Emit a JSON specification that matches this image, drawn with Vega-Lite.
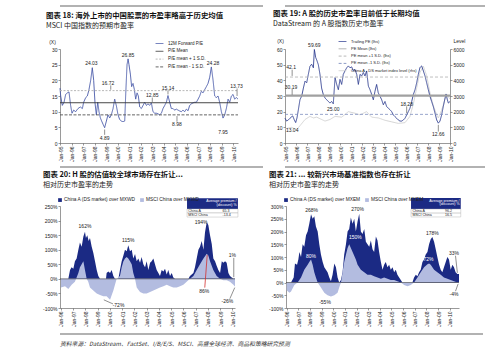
{
"$schema": "https://vega.github.io/schema/vega-lite/v6.json",
"background": "white",
"padding": {"left": 42, "top": 5, "right": 0, "bottom": 0},
"spacing": 2,
"resolve": {"scale": {"color": "independent", "strokeDash": "independent", "strokeWidth": "independent"}, "legend": {"color": "independent", "strokeDash": "independent"}},
"vconcat": [
 {"spacing": 20, "hconcat": [
  {"width": 203, "height": 1, "data": {"values": [{}]}, "mark": {"type": "rule", "color": "#999999", "strokeWidth": 1.3}, "encoding": {"y": {"datum": 1, "type": "quantitative", "scale": {"domain": [0, 1]}, "axis": null}}},
  {"width": 200, "height": 1, "data": {"values": [{}]}, "mark": {"type": "rule", "color": "#999999", "strokeWidth": 1.3}, "encoding": {"y": {"datum": 1, "type": "quantitative", "scale": {"domain": [0, 1]}, "axis": null}}}
 ]},
 {"spacing": 30,
  "resolve": {"scale": {"color": "independent", "strokeDash": "independent", "strokeWidth": "independent"}, "legend": {"color": "independent", "strokeDash": "independent"}},
  "hconcat": [
  {"width": 178, "height": 94,
   "title": {"text": "图表 18: 海外上市的中国股票的市盈率略高于历史均值", "subtitle": "MSCI 中国指数的预期市盈率", "dx": -14, "offset": 10},
   "encoding": {
    "x": {"field": "t", "type": "quantitative", "scale": {"domain": [1995, 2010.43], "nice": false, "zero": false},
          "axis": {"values": [1995,1996,1997,1998,1999,2000,2001,2002,2003,2004,2005,2006,2007,2008,2009,2010], "labelExpr": "'Jan-' + substring(toString(datum.value), 2, 4)", "labelAngle": -90, "labelOverlap": false, "title": null}},
    "y": {"field": "v", "type": "quantitative", "scale": {"domain": [0, 30], "nice": false},
          "axis": {"values": [0,5,10,15,20,25,30], "labelOverlap": false, "title": "(X)", "titleAngle": 0, "titleX": -8, "titleY": -8, "titleAlign": "center", "titleBaseline": "middle"}}
   },
   "layer": [
    {"data": {"name": "c18"}, "mark": {"type": "line", "strokeWidth": 0.9},
     "encoding": {
      "color": {"field": "s", "type": "nominal", "scale": {"domain": ["12M Forward P/E", "P/E Mean", "P/E mean + 1 S.D.", "P/E mean - 1 S.D."], "range": ["#4253a6", "#333333", "#b0b0b0", "#555555"]},
                "legend": {"orient": "none", "legendX": 95, "legendY": -10, "symbolType": "stroke", "symbolSize": 60, "symbolStrokeWidth": 0.9, "labelFontSize": 4.5, "rowPadding": 0.8, "title": null}},
      "strokeDash": {"field": "s", "type": "nominal", "scale": {"domain": ["12M Forward P/E", "P/E Mean", "P/E mean + 1 S.D.", "P/E mean - 1 S.D."], "range": [[1,0],[1,0],[2,1.5],[3,1.5]]},
                "legend": {"orient": "none", "legendX": 95, "legendY": -10, "symbolType": "stroke", "symbolSize": 60, "symbolStrokeWidth": 0.9, "labelFontSize": 4.5, "rowPadding": 0.8, "title": null}}
     }},
    {"data": {"name": "a18"}, "mark": {"type": "text", "fontSize": 5, "color": "#222222"}, "encoding": {"text": {"field": "l"}}},
    {"data": {"name": "r18"}, "mark": {"type": "rule", "color": "#222222", "strokeWidth": 0.5}, "encoding": {"x2": {"field": "t2"}, "y2": {"field": "v2"}}}
   ]},
  {"width": 165, "height": 94,
   "title": {"text": "图表 19: A 股的历史市盈率目前低于长期均值", "subtitle": "DataStream 的 A 股指数历史市盈率", "dx": -12, "offset": 10},
   "resolve": {"scale": {"y": "independent"}},
   "encoding": {
    "x": {"field": "t", "type": "quantitative", "scale": {"domain": [1995, 2010], "nice": false, "zero": false},
          "axis": {"values": [1995,1996,1997,1998,1999,2000,2001,2002,2003,2004,2005,2006,2007,2008,2009,2010], "labelExpr": "'Jan-' + substring(toString(datum.value), 2, 4)", "labelAngle": -90, "labelOverlap": false, "title": null}}
   },
   "layer": [
    {"data": {"name": "c19i"}, "mark": {"type": "line", "strokeWidth": 0.9},
     "encoding": {
      "y": {"field": "v", "type": "quantitative", "scale": {"domain": [0, 6000], "nice": false},
            "axis": {"orient": "right", "values": [0,1000,2000,3000,4000,5000,6000], "format": "d", "labelOverlap": false, "title": "Level", "titleAngle": 0, "titleX": 9, "titleY": -9, "titleAlign": "center", "titleBaseline": "middle"}},
      "color": {"field": "s", "type": "nominal", "scale": {"domain": ["Trailing PE (lhs)", "PE Mean (lhs)", "PE mean +1 S.D. (lhs)", "PE mean -1 S.D. (lhs)", "China A - DS market index level (rhs)"], "range": ["#2b3b8f", "#a0a0a0", "#b0b0b0", "#7f8fbf", "#cfcfcf"]},
                "legend": {"orient": "none", "legendX": 53, "legendY": -12, "symbolType": "stroke", "symbolSize": 60, "symbolStrokeWidth": 0.9, "labelFontSize": 4, "rowPadding": 0.3, "title": null}},
      "strokeDash": {"field": "s", "type": "nominal", "scale": {"domain": ["Trailing PE (lhs)", "PE Mean (lhs)", "PE mean +1 S.D. (lhs)", "PE mean -1 S.D. (lhs)", "China A - DS market index level (rhs)"], "range": [[1,0],[1,0],[3,2],[3,2],[1,0]]},
                "legend": {"orient": "none", "legendX": 53, "legendY": -12, "symbolType": "stroke", "symbolSize": 60, "symbolStrokeWidth": 0.9, "labelFontSize": 4, "rowPadding": 0.3, "title": null}}
     }},
    {"encoding": {
      "y": {"field": "v", "type": "quantitative", "scale": {"domain": [0, 60], "nice": false},
            "axis": {"orient": "left", "values": [0,10,20,30,40,50,60], "labelOverlap": false, "title": "(X)", "titleAngle": 0, "titleX": -5, "titleY": -9, "titleAlign": "center", "titleBaseline": "middle"}}
     },
     "layer": [
     {"data": {"name": "c19"}, "mark": {"type": "line"},
      "encoding": {
       "color": {"field": "s", "type": "nominal"},
       "strokeDash": {"field": "s", "type": "nominal"},
       "strokeWidth": {"field": "s", "type": "nominal", "scale": {"type": "ordinal", "domain": ["Trailing PE (lhs)", "PE Mean (lhs)", "PE mean +1 S.D. (lhs)", "PE mean -1 S.D. (lhs)"], "range": [0.9, 2.2, 0.8, 0.8]}, "legend": null}
      }},
     {"data": {"name": "a19"}, "mark": {"type": "text", "fontSize": 5, "color": "#222222"}, "encoding": {"text": {"field": "l"}}},
     {"data": {"name": "r19"}, "mark": {"type": "rule", "color": "#222222", "strokeWidth": 0.5}, "encoding": {"x2": {"field": "t2"}, "y2": {"field": "v2"}}}
    ]}
   ]}
 ]},
 {"spacing": 20, "hconcat": [
  {"width": 203, "height": 3, "data": {"values": [{}]}, "mark": {"type": "rule", "color": "#999999", "strokeWidth": 1.3}, "encoding": {"y": {"datum": 0, "type": "quantitative", "scale": {"domain": [0, 1]}, "axis": null}}},
  {"width": 200, "height": 3, "data": {"values": [{}]}, "mark": {"type": "rule", "color": "#999999", "strokeWidth": 1.3}, "encoding": {"y": {"datum": 0, "type": "quantitative", "scale": {"domain": [0, 1]}, "axis": null}}}
 ]},
 {"spacing": 29,
  "resolve": {"scale": {"color": "independent"}, "legend": {"color": "independent"}},
  "hconcat": [
  {"width": 175, "height": 102,
   "title": {"text": "图表 20: H 股的估值较全球市场存在折让...", "subtitle": "相对历史市盈率的走势", "dx": -17, "offset": 9},
   "encoding": {
    "x": {"field": "t", "type": "quantitative", "scale": {"domain": [1995.92, 2010.22], "nice": false, "zero": false},
          "axis": {"values": [1996,1997,1998,1999,2000,2001,2002,2003,2004,2005,2006,2007,2008,2009,2010], "labelExpr": "'Jan-' + substring(toString(datum.value), 2, 4)", "labelAngle": -90, "labelOverlap": false, "title": null}},
    "y": {"field": "v", "type": "quantitative", "scale": {"domain": [-100, 250], "nice": false},
          "axis": {"values": [-100,-50,0,50,100,150,200,250], "labelExpr": "datum.value + '%'", "labelOverlap": false, "title": null}}
   },
   "layer": [
    {"data": {"name": "c20a"}, "mark": {"type": "area"},
     "encoding": {
      "color": {"datum": "China A (DS market) over MXWD", "scale": {"domain": ["China A (DS market) over MXWD", "MSCI China over MXWD"], "range": ["#1b2a84", "#b3bce0"]},
                "legend": {"orient": "none", "legendX": -3, "legendY": -9, "direction": "horizontal", "symbolType": "square", "symbolSize": 14, "labelFontSize": 4.8, "columnPadding": 3, "labelOffset": 1, "title": null}}
     }},
    {"data": {"name": "c20b"}, "mark": {"type": "area"}, "encoding": {"color": {"datum": "MSCI China over MXWD"}}},
    {"data": {"name": "tab20"}, "mark": {"type": "rect", "fill": "#1b2a84"}, "encoding": {"x2": {"field": "t2"}, "y2": {"field": "v2"}}},
    {"data": {"name": "tabrow20"}, "mark": {"type": "rect", "fill": "white", "stroke": "#aaaaaa", "strokeWidth": 0.4}, "encoding": {"x2": {"field": "t2"}, "y2": {"field": "v2"}}},
    {"data": {"name": "tabhd20"}, "mark": {"type": "text", "fontSize": 3.6, "color": "white", "align": "right"}, "encoding": {"text": {"field": "l"}}},
    {"data": {"name": "tabtx20"}, "mark": {"type": "text", "fontSize": 3.6, "color": "#222222", "align": "left"}, "encoding": {"text": {"field": "l"}}},
    {"data": {"name": "a20"}, "mark": {"type": "text", "fontSize": 5, "color": "#222222"}, "encoding": {"text": {"field": "l"}}},
    {"data": {"name": "r20"}, "mark": {"type": "rule", "color": "#222222", "strokeWidth": 0.5}, "encoding": {"x2": {"field": "t2"}, "y2": {"field": "v2"}}},
    {"data": {"name": "r20red"}, "mark": {"type": "rule", "color": "#d23030", "strokeWidth": 0.8}, "encoding": {"x2": {"field": "t2"}, "y2": {"field": "v2"}}}
   ]},
  {"width": 173, "height": 102,
   "title": {"text": "图表 21: ... 较新兴市场基准指数也存在折让", "subtitle": "相对历史市盈率的走势", "dx": -17, "offset": 9},
   "encoding": {
    "x": {"field": "t", "type": "quantitative", "scale": {"domain": [1995.94, 2010.8], "nice": false, "zero": false},
          "axis": {"values": [1996,1997,1998,1999,2000,2001,2002,2003,2004,2005,2006,2007,2008,2009,2010], "labelExpr": "'Jan-' + substring(toString(datum.value), 2, 4)", "labelAngle": -90, "labelOverlap": false, "title": null}},
    "y": {"field": "v", "type": "quantitative", "scale": {"domain": [-100, 300], "nice": false},
          "axis": {"values": [-100,-50,0,50,100,150,200,250,300], "labelExpr": "datum.value + '%'", "labelOverlap": false, "title": null}}
   },
   "layer": [
    {"data": {"name": "c21a"}, "mark": {"type": "area"},
     "encoding": {
      "color": {"datum": "China A (DS market) over MXEM", "scale": {"domain": ["China A (DS market) over MXEM", "MSCI China over MXEM"], "range": ["#1b2a84", "#b3bce0"]},
                "legend": {"orient": "none", "legendX": -3, "legendY": -9, "direction": "horizontal", "symbolType": "square", "symbolSize": 14, "labelFontSize": 4.8, "columnPadding": 3, "labelOffset": 1, "title": null}}
     }},
    {"data": {"name": "c21b"}, "mark": {"type": "area"}, "encoding": {"color": {"datum": "MSCI China over MXEM"}}},
    {"data": {"name": "tab21"}, "mark": {"type": "rect", "fill": "#1b2a84"}, "encoding": {"x2": {"field": "t2"}, "y2": {"field": "v2"}}},
    {"data": {"name": "tabrow21"}, "mark": {"type": "rect", "fill": "white", "stroke": "#aaaaaa", "strokeWidth": 0.4}, "encoding": {"x2": {"field": "t2"}, "y2": {"field": "v2"}}},
    {"data": {"name": "tabhd21"}, "mark": {"type": "text", "fontSize": 3.6, "color": "white", "align": "right"}, "encoding": {"text": {"field": "l"}}},
    {"data": {"name": "tabtx21"}, "mark": {"type": "text", "fontSize": 3.6, "color": "#222222", "align": "left"}, "encoding": {"text": {"field": "l"}}},
    {"data": {"name": "a21"}, "mark": {"type": "text", "fontSize": 5, "color": "#222222"}, "encoding": {"text": {"field": "l"}}},
    {"data": {"name": "a21w"}, "mark": {"type": "text", "fontSize": 5, "color": "white"}, "encoding": {"text": {"field": "l"}}},
    {"data": {"name": "r21"}, "mark": {"type": "rule", "color": "#222222", "strokeWidth": 0.5}, "encoding": {"x2": {"field": "t2"}, "y2": {"field": "v2"}}}
   ]}
 ]},
 {"width": 423, "height": 5, "data": {"values": [{}]},
  "title": {"text": "资料来源：DataStream、FactSet、I/B/E/S、MSCI、高盛全球经济、商品和策略研究预测", "orient": "bottom", "anchor": "start", "frame": "group", "fontSize": 5.8, "fontWeight": "normal", "fontStyle": "italic", "color": "#333333", "offset": 6},
  "mark": {"type": "rule", "color": "#999999", "strokeWidth": 1.3}, "encoding": {"y": {"datum": 0, "type": "quantitative", "scale": {"domain": [0, 1]}, "axis": null}}}
],
"datasets": {
 "c18": [
  {"s":"12M Forward P/E","t":1995.00,"v":17.5},{"s":"12M Forward P/E","t":1995.06,"v":15},{"s":"12M Forward P/E","t":1995.20,"v":12},{"s":"12M Forward P/E","t":1995.35,"v":13},{"s":"12M Forward P/E","t":1995.49,"v":15.5},{"s":"12M Forward P/E","t":1995.64,"v":16},{"s":"12M Forward P/E","t":1995.78,"v":16.3},{"s":"12M Forward P/E","t":1995.92,"v":12},
  {"s":"12M Forward P/E","t":1996.04,"v":9.5},{"s":"12M Forward P/E","t":1996.18,"v":10.5},{"s":"12M Forward P/E","t":1996.36,"v":10},{"s":"12M Forward P/E","t":1996.56,"v":11},{"s":"12M Forward P/E","t":1996.76,"v":11.5},{"s":"12M Forward P/E","t":1996.94,"v":11},
  {"s":"12M Forward P/E","t":1997.05,"v":13},{"s":"12M Forward P/E","t":1997.23,"v":14.5},{"s":"12M Forward P/E","t":1997.37,"v":15},{"s":"12M Forward P/E","t":1997.51,"v":17},{"s":"12M Forward P/E","t":1997.66,"v":20},{"s":"12M Forward P/E","t":1997.80,"v":24.03},{"s":"12M Forward P/E","t":1997.92,"v":20},
  {"s":"12M Forward P/E","t":1998.03,"v":13},{"s":"12M Forward P/E","t":1998.15,"v":9},{"s":"12M Forward P/E","t":1998.27,"v":13},{"s":"12M Forward P/E","t":1998.38,"v":10},{"s":"12M Forward P/E","t":1998.50,"v":8},{"s":"12M Forward P/E","t":1998.61,"v":7},{"s":"12M Forward P/E","t":1998.73,"v":6},{"s":"12M Forward P/E","t":1998.87,"v":4.89},
  {"s":"12M Forward P/E","t":1999.02,"v":7},{"s":"12M Forward P/E","t":1999.16,"v":9},{"s":"12M Forward P/E","t":1999.31,"v":8},{"s":"12M Forward P/E","t":1999.45,"v":9},{"s":"12M Forward P/E","t":1999.60,"v":11},{"s":"12M Forward P/E","t":1999.74,"v":14},{"s":"12M Forward P/E","t":1999.88,"v":12},
  {"s":"12M Forward P/E","t":2000.03,"v":9},{"s":"12M Forward P/E","t":2000.17,"v":7.5},{"s":"12M Forward P/E","t":2000.32,"v":7},{"s":"12M Forward P/E","t":2000.46,"v":6.8},{"s":"12M Forward P/E","t":2000.61,"v":7},{"s":"12M Forward P/E","t":2000.69,"v":15},{"s":"12M Forward P/E","t":2000.81,"v":25},{"s":"12M Forward P/E","t":2000.90,"v":26.85},{"s":"12M Forward P/E","t":2000.98,"v":25},
  {"s":"12M Forward P/E","t":2001.10,"v":22},{"s":"12M Forward P/E","t":2001.21,"v":18},{"s":"12M Forward P/E","t":2001.33,"v":19},{"s":"12M Forward P/E","t":2001.45,"v":17},{"s":"12M Forward P/E","t":2001.56,"v":14},{"s":"12M Forward P/E","t":2001.68,"v":16},{"s":"12M Forward P/E","t":2001.79,"v":15},{"s":"12M Forward P/E","t":2001.91,"v":11.5},
  {"s":"12M Forward P/E","t":2002.05,"v":11},{"s":"12M Forward P/E","t":2002.20,"v":12},{"s":"12M Forward P/E","t":2002.34,"v":13},{"s":"12M Forward P/E","t":2002.49,"v":12},{"s":"12M Forward P/E","t":2002.63,"v":12.5},{"s":"12M Forward P/E","t":2002.77,"v":12},{"s":"12M Forward P/E","t":2002.92,"v":12.8},
  {"s":"12M Forward P/E","t":2003.06,"v":10},{"s":"12M Forward P/E","t":2003.21,"v":9.5},{"s":"12M Forward P/E","t":2003.35,"v":9.5},{"s":"12M Forward P/E","t":2003.50,"v":9.3},{"s":"12M Forward P/E","t":2003.64,"v":9},{"s":"12M Forward P/E","t":2003.79,"v":9.5},{"s":"12M Forward P/E","t":2003.93,"v":11},
  {"s":"12M Forward P/E","t":2004.08,"v":12},{"s":"12M Forward P/E","t":2004.22,"v":13},{"s":"12M Forward P/E","t":2004.36,"v":15.14},{"s":"12M Forward P/E","t":2004.51,"v":13},{"s":"12M Forward P/E","t":2004.65,"v":11},{"s":"12M Forward P/E","t":2004.80,"v":11},{"s":"12M Forward P/E","t":2004.94,"v":10.5},
  {"s":"12M Forward P/E","t":2005.09,"v":10.8},{"s":"12M Forward P/E","t":2005.23,"v":10.5},{"s":"12M Forward P/E","t":2005.38,"v":10.2},{"s":"12M Forward P/E","t":2005.52,"v":10},{"s":"12M Forward P/E","t":2005.66,"v":10.5},{"s":"12M Forward P/E","t":2005.81,"v":10},{"s":"12M Forward P/E","t":2005.95,"v":10.8},
  {"s":"12M Forward P/E","t":2006.10,"v":10.3},{"s":"12M Forward P/E","t":2006.24,"v":12},{"s":"12M Forward P/E","t":2006.39,"v":12.5},{"s":"12M Forward P/E","t":2006.53,"v":12.8},{"s":"12M Forward P/E","t":2006.68,"v":13},{"s":"12M Forward P/E","t":2006.82,"v":13},{"s":"12M Forward P/E","t":2006.97,"v":14},
  {"s":"12M Forward P/E","t":2007.11,"v":15},{"s":"12M Forward P/E","t":2007.25,"v":16.5},{"s":"12M Forward P/E","t":2007.40,"v":16},{"s":"12M Forward P/E","t":2007.54,"v":17},{"s":"12M Forward P/E","t":2007.69,"v":18},{"s":"12M Forward P/E","t":2007.83,"v":19},{"s":"12M Forward P/E","t":2007.98,"v":21},
  {"s":"12M Forward P/E","t":2008.12,"v":24.28},{"s":"12M Forward P/E","t":2008.27,"v":20},{"s":"12M Forward P/E","t":2008.41,"v":15},{"s":"12M Forward P/E","t":2008.55,"v":14.5},{"s":"12M Forward P/E","t":2008.70,"v":15},{"s":"12M Forward P/E","t":2008.84,"v":13},{"s":"12M Forward P/E","t":2008.99,"v":10},
  {"s":"12M Forward P/E","t":2009.13,"v":7.95},{"s":"12M Forward P/E","t":2009.28,"v":9},{"s":"12M Forward P/E","t":2009.42,"v":11},{"s":"12M Forward P/E","t":2009.57,"v":14},{"s":"12M Forward P/E","t":2009.71,"v":13},{"s":"12M Forward P/E","t":2009.86,"v":15},
  {"s":"12M Forward P/E","t":2010.00,"v":15.5},{"s":"12M Forward P/E","t":2010.14,"v":14},{"s":"12M Forward P/E","t":2010.29,"v":14.5},{"s":"12M Forward P/E","t":2010.43,"v":14},
  {"s":"P/E Mean","t":1995,"v":12.85},{"s":"P/E Mean","t":2010.43,"v":12.85},
  {"s":"P/E mean + 1 S.D.","t":1995,"v":16.72},{"s":"P/E mean + 1 S.D.","t":2010.43,"v":16.72},
  {"s":"P/E mean - 1 S.D.","t":1995,"v":8.98},{"s":"P/E mean - 1 S.D.","t":2010.43,"v":8.98}
 ],
 "a18": [
  {"t":1997.72,"v":25.4,"l":"24.03"},{"t":1998.87,"v":1.6,"l":"4.89"},{"t":1999.16,"v":19.3,"l":"16.72"},{"t":2000.90,"v":28.0,"l":"26.85"},
  {"t":2003.0,"v":15.3,"l":"12.85"},{"t":2004.36,"v":17.6,"l":"15.14"},{"t":2005.14,"v":6.0,"l":"8.98"},{"t":2008.27,"v":25.5,"l":"24.28"},
  {"t":2009.13,"v":3.6,"l":"7.95"},{"t":2010.3,"v":18.2,"l":"13.73"}
 ],
 "r18": [
  {"t":1998.87,"v":2.6,"t2":1998.87,"v2":4.3},{"t":1999.4,"v":18.4,"t2":1999.4,"v2":17.0},{"t":2003.0,"v":14.5,"t2":2003.0,"v2":13.1},
  {"t":2004.36,"v":16.8,"t2":2004.36,"v2":15.5},{"t":2005.14,"v":6.8,"t2":2005.14,"v2":8.6},{"t":2010.35,"v":17.4,"t2":2010.35,"v2":15.0}
 ],
 "c19": [
  {"s":"Trailing PE (lhs)","t":1995.00,"v":15.8},{"s":"Trailing PE (lhs)","t":1995.15,"v":14},{"s":"Trailing PE (lhs)","t":1995.30,"v":14.7},{"s":"Trailing PE (lhs)","t":1995.45,"v":15.8},{"s":"Trailing PE (lhs)","t":1995.61,"v":16.8},{"s":"Trailing PE (lhs)","t":1995.70,"v":17.3},{"s":"Trailing PE (lhs)","t":1995.85,"v":14.7},{"s":"Trailing PE (lhs)","t":1995.97,"v":13.04},
  {"s":"Trailing PE (lhs)","t":1996.09,"v":16},{"s":"Trailing PE (lhs)","t":1996.21,"v":21},{"s":"Trailing PE (lhs)","t":1996.36,"v":27.6},{"s":"Trailing PE (lhs)","t":1996.52,"v":30},{"s":"Trailing PE (lhs)","t":1996.67,"v":35},{"s":"Trailing PE (lhs)","t":1996.82,"v":39.5},{"s":"Trailing PE (lhs)","t":1996.97,"v":38.4},
  {"s":"Trailing PE (lhs)","t":1997.12,"v":43.8},{"s":"Trailing PE (lhs)","t":1997.27,"v":49},{"s":"Trailing PE (lhs)","t":1997.42,"v":50.3},{"s":"Trailing PE (lhs)","t":1997.58,"v":48},{"s":"Trailing PE (lhs)","t":1997.67,"v":59.69},{"s":"Trailing PE (lhs)","t":1997.79,"v":54.6},{"s":"Trailing PE (lhs)","t":1997.91,"v":52.5},
  {"s":"Trailing PE (lhs)","t":1998.03,"v":50},{"s":"Trailing PE (lhs)","t":1998.18,"v":43.8},{"s":"Trailing PE (lhs)","t":1998.33,"v":35},{"s":"Trailing PE (lhs)","t":1998.48,"v":31},{"s":"Trailing PE (lhs)","t":1998.64,"v":28.7},{"s":"Trailing PE (lhs)","t":1998.79,"v":27.6},{"s":"Trailing PE (lhs)","t":1998.94,"v":26.5},
  {"s":"Trailing PE (lhs)","t":1999.09,"v":25.5},{"s":"Trailing PE (lhs)","t":1999.24,"v":26.5},{"s":"Trailing PE (lhs)","t":1999.39,"v":25.0},{"s":"Trailing PE (lhs)","t":1999.55,"v":41.7},{"s":"Trailing PE (lhs)","t":1999.70,"v":37.4},{"s":"Trailing PE (lhs)","t":1999.85,"v":34},
  {"s":"Trailing PE (lhs)","t":2000.00,"v":40.6},{"s":"Trailing PE (lhs)","t":2000.15,"v":37.4},{"s":"Trailing PE (lhs)","t":2000.30,"v":43.8},{"s":"Trailing PE (lhs)","t":2000.45,"v":46},{"s":"Trailing PE (lhs)","t":2000.61,"v":48},{"s":"Trailing PE (lhs)","t":2000.76,"v":49.2},{"s":"Trailing PE (lhs)","t":2000.91,"v":48},
  {"s":"Trailing PE (lhs)","t":2001.06,"v":48.6},{"s":"Trailing PE (lhs)","t":2001.21,"v":46},{"s":"Trailing PE (lhs)","t":2001.36,"v":47},{"s":"Trailing PE (lhs)","t":2001.52,"v":43.8},{"s":"Trailing PE (lhs)","t":2001.67,"v":37.4},{"s":"Trailing PE (lhs)","t":2001.82,"v":43.8},{"s":"Trailing PE (lhs)","t":2001.97,"v":42.8},
  {"s":"Trailing PE (lhs)","t":2002.12,"v":45},{"s":"Trailing PE (lhs)","t":2002.27,"v":42.8},{"s":"Trailing PE (lhs)","t":2002.42,"v":46},{"s":"Trailing PE (lhs)","t":2002.58,"v":36.3},{"s":"Trailing PE (lhs)","t":2002.73,"v":34},{"s":"Trailing PE (lhs)","t":2002.88,"v":31},
  {"s":"Trailing PE (lhs)","t":2003.03,"v":27.6},{"s":"Trailing PE (lhs)","t":2003.18,"v":33},{"s":"Trailing PE (lhs)","t":2003.33,"v":37.4},{"s":"Trailing PE (lhs)","t":2003.48,"v":32},{"s":"Trailing PE (lhs)","t":2003.64,"v":29.8},{"s":"Trailing PE (lhs)","t":2003.79,"v":27.6},{"s":"Trailing PE (lhs)","t":2003.94,"v":24.4},
  {"s":"Trailing PE (lhs)","t":2004.09,"v":26.5},{"s":"Trailing PE (lhs)","t":2004.24,"v":23.3},{"s":"Trailing PE (lhs)","t":2004.39,"v":22.2},{"s":"Trailing PE (lhs)","t":2004.55,"v":21.2},{"s":"Trailing PE (lhs)","t":2004.70,"v":20},{"s":"Trailing PE (lhs)","t":2004.85,"v":17.9},
  {"s":"Trailing PE (lhs)","t":2005.00,"v":16.8},{"s":"Trailing PE (lhs)","t":2005.15,"v":15.8},{"s":"Trailing PE (lhs)","t":2005.30,"v":14.7},{"s":"Trailing PE (lhs)","t":2005.45,"v":14},{"s":"Trailing PE (lhs)","t":2005.61,"v":14},{"s":"Trailing PE (lhs)","t":2005.76,"v":14.7},{"s":"Trailing PE (lhs)","t":2005.91,"v":15.8},
  {"s":"Trailing PE (lhs)","t":2006.06,"v":17.9},{"s":"Trailing PE (lhs)","t":2006.21,"v":20},{"s":"Trailing PE (lhs)","t":2006.36,"v":22.2},{"s":"Trailing PE (lhs)","t":2006.52,"v":26.5},{"s":"Trailing PE (lhs)","t":2006.67,"v":31},{"s":"Trailing PE (lhs)","t":2006.82,"v":34},{"s":"Trailing PE (lhs)","t":2006.97,"v":38.4},
  {"s":"Trailing PE (lhs)","t":2007.12,"v":43.8},{"s":"Trailing PE (lhs)","t":2007.27,"v":48.2},{"s":"Trailing PE (lhs)","t":2007.42,"v":49.2},{"s":"Trailing PE (lhs)","t":2007.58,"v":46},{"s":"Trailing PE (lhs)","t":2007.73,"v":42.8},{"s":"Trailing PE (lhs)","t":2007.88,"v":38.4},
  {"s":"Trailing PE (lhs)","t":2008.03,"v":34},{"s":"Trailing PE (lhs)","t":2008.18,"v":29.8},{"s":"Trailing PE (lhs)","t":2008.33,"v":26.5},{"s":"Trailing PE (lhs)","t":2008.48,"v":23.3},{"s":"Trailing PE (lhs)","t":2008.64,"v":19},{"s":"Trailing PE (lhs)","t":2008.79,"v":14.7},{"s":"Trailing PE (lhs)","t":2008.94,"v":12.66},
  {"s":"Trailing PE (lhs)","t":2009.09,"v":14},{"s":"Trailing PE (lhs)","t":2009.24,"v":17.9},{"s":"Trailing PE (lhs)","t":2009.39,"v":23.3},{"s":"Trailing PE (lhs)","t":2009.55,"v":28.7},{"s":"Trailing PE (lhs)","t":2009.64,"v":31.3},{"s":"Trailing PE (lhs)","t":2009.76,"v":27.6},{"s":"Trailing PE (lhs)","t":2009.85,"v":25.5},{"s":"Trailing PE (lhs)","t":2010.00,"v":26.5},
  {"s":"PE Mean (lhs)","t":1995,"v":30.19},{"s":"PE Mean (lhs)","t":2010,"v":30.19},
  {"s":"PE mean +1 S.D. (lhs)","t":1995,"v":42.1},{"s":"PE mean +1 S.D. (lhs)","t":2010,"v":42.1},
  {"s":"PE mean -1 S.D. (lhs)","t":1995,"v":18.28},{"s":"PE mean -1 S.D. (lhs)","t":2010,"v":18.28}
 ],
 "c19i": [
  {"s":"China A - DS market index level (rhs)","t":1995.00,"v":900},{"s":"China A - DS market index level (rhs)","t":1995.61,"v":1000},{"s":"China A - DS market index level (rhs)","t":1996.06,"v":850},{"s":"China A - DS market index level (rhs)","t":1996.36,"v":1100},
  {"s":"China A - DS market index level (rhs)","t":1996.82,"v":1500},{"s":"China A - DS market index level (rhs)","t":1997.27,"v":1700},{"s":"China A - DS market index level (rhs)","t":1997.58,"v":1600},{"s":"China A - DS market index level (rhs)","t":1997.88,"v":1650},
  {"s":"China A - DS market index level (rhs)","t":1998.18,"v":1550},{"s":"China A - DS market index level (rhs)","t":1998.64,"v":1400},{"s":"China A - DS market index level (rhs)","t":1999.09,"v":1500},{"s":"China A - DS market index level (rhs)","t":1999.55,"v":1700},
  {"s":"China A - DS market index level (rhs)","t":2000.15,"v":1650},{"s":"China A - DS market index level (rhs)","t":2000.76,"v":2000},{"s":"China A - DS market index level (rhs)","t":2001.36,"v":1900},{"s":"China A - DS market index level (rhs)","t":2001.82,"v":1800},
  {"s":"China A - DS market index level (rhs)","t":2002.42,"v":2000},{"s":"China A - DS market index level (rhs)","t":2002.88,"v":1650},{"s":"China A - DS market index level (rhs)","t":2003.48,"v":1600},{"s":"China A - DS market index level (rhs)","t":2004.09,"v":1450},
  {"s":"China A - DS market index level (rhs)","t":2004.70,"v":1350},{"s":"China A - DS market index level (rhs)","t":2005.30,"v":1250},{"s":"China A - DS market index level (rhs)","t":2005.91,"v":1300},{"s":"China A - DS market index level (rhs)","t":2006.36,"v":1700},
  {"s":"China A - DS market index level (rhs)","t":2006.67,"v":2500},{"s":"China A - DS market index level (rhs)","t":2006.97,"v":3500},{"s":"China A - DS market index level (rhs)","t":2007.27,"v":4500},{"s":"China A - DS market index level (rhs)","t":2007.58,"v":4900},
  {"s":"China A - DS market index level (rhs)","t":2007.88,"v":4300},{"s":"China A - DS market index level (rhs)","t":2008.18,"v":3200},{"s":"China A - DS market index level (rhs)","t":2008.48,"v":2400},{"s":"China A - DS market index level (rhs)","t":2008.79,"v":1800},
  {"s":"China A - DS market index level (rhs)","t":2008.94,"v":1600},{"s":"China A - DS market index level (rhs)","t":2009.24,"v":2100},{"s":"China A - DS market index level (rhs)","t":2009.55,"v":2800},{"s":"China A - DS market index level (rhs)","t":2009.70,"v":3100},{"s":"China A - DS market index level (rhs)","t":2010.00,"v":2800}
 ],
 "a19": [
  {"t":1997.67,"v":62.5,"l":"59.69"},{"t":1995.55,"v":48.5,"l":"42.1"},{"t":1995.55,"v":36,"l":"30.19"},{"t":1995.65,"v":8.5,"l":"13.04"},
  {"t":1999.39,"v":21.5,"l":"25.00"},{"t":2006.06,"v":24.8,"l":"18.28"},{"t":2008.94,"v":5.5,"l":"12.66"}
 ],
 "r19": [
  {"t":1995.65,"v":46.8,"t2":1995.65,"v2":42.8},{"t":1995.65,"v":34.5,"t2":1995.65,"v2":30.8},{"t":2006.06,"v":23.4,"t2":2006.06,"v2":19},{"t":2008.94,"v":7.3,"t2":2008.94,"v2":11.6}
 ],
 "c20a": [
  {"t":1996.00,"v":0},{"t":1996.60,"v":0},{"t":1996.74,"v":30},{"t":1996.87,"v":40},{"t":1997.01,"v":35},{"t":1997.14,"v":60},{"t":1997.28,"v":70},{"t":1997.42,"v":100},{"t":1997.55,"v":125},{"t":1997.69,"v":110},{"t":1997.83,"v":145},{"t":1997.96,"v":162},
  {"t":1998.04,"v":140},{"t":1998.15,"v":150},{"t":1998.26,"v":130},{"t":1998.37,"v":140},{"t":1998.51,"v":110},{"t":1998.64,"v":90},{"t":1998.78,"v":60},{"t":1998.92,"v":30},{"t":1999.05,"v":10},{"t":1999.19,"v":0},{"t":1999.68,"v":0},{"t":1999.73,"v":20},{"t":1999.87,"v":25},
  {"t":2000.01,"v":20},{"t":2000.14,"v":30},{"t":2000.28,"v":10},{"t":2000.41,"v":0},{"t":2000.69,"v":0},{"t":2000.82,"v":30},{"t":2000.96,"v":60},{"t":2001.10,"v":80},{"t":2001.23,"v":100},{"t":2001.37,"v":95},{"t":2001.50,"v":115},{"t":2001.64,"v":95},{"t":2001.78,"v":100},{"t":2001.91,"v":70},
  {"t":2002.05,"v":85},{"t":2002.19,"v":60},{"t":2002.32,"v":70},{"t":2002.46,"v":55},{"t":2002.59,"v":75},{"t":2002.73,"v":50},{"t":2002.87,"v":40},{"t":2003.00,"v":60},{"t":2003.14,"v":30},{"t":2003.28,"v":55},{"t":2003.41,"v":60},{"t":2003.55,"v":70},{"t":2003.68,"v":50},{"t":2003.82,"v":30},{"t":2003.96,"v":20},
  {"t":2004.09,"v":10},{"t":2004.23,"v":30},{"t":2004.37,"v":25},{"t":2004.50,"v":35},{"t":2004.64,"v":15},{"t":2004.77,"v":30},{"t":2004.91,"v":10},{"t":2005.05,"v":20},{"t":2005.18,"v":5},{"t":2005.32,"v":0},{"t":2006.41,"v":0},{"t":2006.54,"v":10},{"t":2006.68,"v":15},{"t":2006.82,"v":20},{"t":2006.95,"v":40},
  {"t":2007.09,"v":70},{"t":2007.23,"v":100},{"t":2007.36,"v":110},{"t":2007.50,"v":130},{"t":2007.64,"v":100},{"t":2007.77,"v":160},{"t":2007.91,"v":194},{"t":2008.04,"v":185},{"t":2008.18,"v":150},{"t":2008.32,"v":120},{"t":2008.45,"v":70},{"t":2008.59,"v":60},{"t":2008.72,"v":45},{"t":2008.86,"v":30},
  {"t":2009.00,"v":20},{"t":2009.14,"v":60},{"t":2009.27,"v":55},{"t":2009.41,"v":60},{"t":2009.54,"v":55},{"t":2009.68,"v":20},{"t":2009.81,"v":10},{"t":2009.95,"v":5},{"t":2010.09,"v":1},{"t":2010.22,"v":1}
 ],
 "c20b": [
  {"t":1996.00,"v":-30},{"t":1996.33,"v":-25},{"t":1996.60,"v":-35},{"t":1996.87,"v":-20},{"t":1997.14,"v":-10},{"t":1997.42,"v":20},{"t":1997.55,"v":40},{"t":1997.69,"v":50},{"t":1997.83,"v":60},{"t":1997.96,"v":30},
  {"t":1998.10,"v":0},{"t":1998.23,"v":-10},{"t":1998.37,"v":-30},{"t":1998.64,"v":-40},{"t":1998.92,"v":-50},{"t":1999.19,"v":-55},{"t":1999.46,"v":-60},{"t":1999.73,"v":-60},{"t":2000.01,"v":-72},{"t":2000.28,"v":-40},{"t":2000.55,"v":0},{"t":2000.82,"v":10},{"t":2000.96,"v":40},
  {"t":2001.10,"v":60},{"t":2001.23,"v":70},{"t":2001.37,"v":75},{"t":2001.50,"v":70},{"t":2001.64,"v":60},{"t":2001.78,"v":50},{"t":2001.91,"v":20},{"t":2002.05,"v":0},{"t":2002.19,"v":-30},{"t":2002.46,"v":-45},{"t":2002.73,"v":-50},{"t":2003.00,"v":-50},{"t":2003.28,"v":-45},{"t":2003.55,"v":-40},{"t":2003.82,"v":-35},
  {"t":2004.09,"v":-30},{"t":2004.37,"v":-25},{"t":2004.64,"v":-20},{"t":2004.91,"v":-25},{"t":2005.18,"v":-30},{"t":2005.46,"v":-30},{"t":2005.73,"v":-25},{"t":2006.00,"v":-20},{"t":2006.27,"v":-10},{"t":2006.54,"v":0},{"t":2006.82,"v":10},
  {"t":2007.09,"v":30},{"t":2007.36,"v":50},{"t":2007.64,"v":70},{"t":2007.91,"v":86},{"t":2008.04,"v":80},{"t":2008.18,"v":60},{"t":2008.45,"v":30},{"t":2008.72,"v":10},{"t":2009.00,"v":0},{"t":2009.27,"v":-5},{"t":2009.54,"v":-5},{"t":2009.81,"v":-10},{"t":2010.09,"v":-20},{"t":2010.22,"v":-26}
 ],
 "tab20": [{"t":2006.3,"t2":2010.46,"v":240,"v2":277}],
 "tabrow20": [{"t":2006.3,"t2":2010.46,"v":226,"v2":240},{"t":2006.3,"t2":2010.46,"v":212,"v2":226}],
 "tabhd20": [{"t":2010.35,"v":266,"l":"Average premium /"},{"t":2010.35,"v":254,"l":"(discount) %"}],
 "tabtx20": [{"t":2006.4,"v":233,"l":"China A"},{"t":2006.4,"v":219,"l":"MSCI China"},{"t":2009.2,"v":233,"l":"65.3"},{"t":2009.2,"v":219,"l":"-13.4"}],
 "a20": [
  {"t":1997.96,"v":182,"l":"162%"},{"t":2001.5,"v":133,"l":"115%"},{"t":2007.45,"v":196,"l":"194%"},{"t":2010.0,"v":82,"l":"1%"},{"t":2000.7,"v":-90,"l":"-72%"},{"t":2009.6,"v":-76,"l":"-26%"},{"t":2007.7,"v":-40,"l":"86%"}
 ],
 "r20": [{"t":2010.12,"v":72,"t2":2010.12,"v2":6},{"t":1999.5,"v":-72,"t2":2000.25,"v2":-86},{"t":2009.8,"v":-68,"t2":2010.2,"v2":-30},{"t":1995.92,"v":0,"t2":2010.22,"v2":0}],
 "r20red": [{"t":2007.75,"v":-30,"t2":2007.95,"v2":82}],
 "c21a": [
  {"t":1996.00,"v":0},{"t":1996.37,"v":0},{"t":1996.60,"v":20},{"t":1996.71,"v":75},{"t":1996.89,"v":70},{"t":1997.00,"v":90},{"t":1997.09,"v":120},{"t":1997.23,"v":100},{"t":1997.37,"v":150},{"t":1997.51,"v":140},{"t":1997.66,"v":185},{"t":1997.80,"v":200},{"t":1997.94,"v":230},
  {"t":1998.09,"v":268},{"t":1998.23,"v":250},{"t":1998.37,"v":260},{"t":1998.51,"v":220},{"t":1998.66,"v":200},{"t":1998.80,"v":150},{"t":1998.94,"v":110},{"t":1999.09,"v":80},{"t":1999.23,"v":60},{"t":1999.37,"v":50},{"t":1999.51,"v":40},{"t":1999.66,"v":20},{"t":1999.80,"v":5},{"t":1999.94,"v":30},
  {"t":2000.09,"v":75},{"t":2000.23,"v":60},{"t":2000.37,"v":20},{"t":2000.51,"v":0},{"t":2000.66,"v":10},{"t":2000.80,"v":40},{"t":2000.94,"v":110},{"t":2001.09,"v":150},{"t":2001.23,"v":200},{"t":2001.37,"v":210},{"t":2001.51,"v":255},{"t":2001.66,"v":230},{"t":2001.80,"v":250},{"t":2001.94,"v":200},
  {"t":2002.09,"v":240},{"t":2002.23,"v":270},{"t":2002.37,"v":200},{"t":2002.51,"v":190},{"t":2002.66,"v":210},{"t":2002.80,"v":160},{"t":2002.94,"v":150},{"t":2003.09,"v":140},{"t":2003.23,"v":165},{"t":2003.37,"v":130},{"t":2003.51,"v":120},{"t":2003.66,"v":180},{"t":2003.80,"v":165},{"t":2003.94,"v":120},
  {"t":2004.09,"v":80},{"t":2004.23,"v":50},{"t":2004.37,"v":70},{"t":2004.51,"v":80},{"t":2004.66,"v":60},{"t":2004.80,"v":70},{"t":2004.94,"v":50},{"t":2005.09,"v":60},{"t":2005.23,"v":40},{"t":2005.37,"v":50},{"t":2005.51,"v":30},{"t":2005.66,"v":20},{"t":2005.80,"v":10},{"t":2005.94,"v":0},
  {"t":2006.80,"v":0},{"t":2006.94,"v":20},{"t":2007.09,"v":30},{"t":2007.23,"v":25},{"t":2007.37,"v":40},{"t":2007.51,"v":50},{"t":2007.66,"v":80},{"t":2007.80,"v":90},{"t":2007.94,"v":110},{"t":2008.09,"v":120},{"t":2008.23,"v":150},{"t":2008.37,"v":170},{"t":2008.51,"v":178},{"t":2008.66,"v":160},{"t":2008.80,"v":130},{"t":2008.94,"v":100},
  {"t":2009.09,"v":70},{"t":2009.23,"v":50},{"t":2009.37,"v":40},{"t":2009.51,"v":60},{"t":2009.66,"v":80},{"t":2009.80,"v":100},{"t":2009.94,"v":90},{"t":2010.09,"v":50},{"t":2010.23,"v":70},{"t":2010.37,"v":60},{"t":2010.51,"v":40},{"t":2010.66,"v":33},{"t":2010.80,"v":33}
 ],
 "c21b": [
  {"t":1996.00,"v":-30},{"t":1996.23,"v":-40},{"t":1996.37,"v":-35},{"t":1996.66,"v":-10},{"t":1996.94,"v":0},{"t":1997.23,"v":20},{"t":1997.51,"v":50},{"t":1997.80,"v":70},{"t":1997.94,"v":80},{"t":1998.09,"v":90},{"t":1998.23,"v":70},{"t":1998.37,"v":40},{"t":1998.51,"v":20},{"t":1998.66,"v":0},{"t":1998.80,"v":-10},{"t":1998.94,"v":-20},
  {"t":1999.23,"v":-40},{"t":1999.51,"v":-50},{"t":1999.80,"v":-55},{"t":2000.09,"v":-50},{"t":2000.37,"v":-40},{"t":2000.51,"v":-20},{"t":2000.66,"v":0},{"t":2000.80,"v":40},{"t":2000.94,"v":80},{"t":2001.09,"v":110},{"t":2001.23,"v":135},{"t":2001.37,"v":150},{"t":2001.51,"v":135},{"t":2001.66,"v":120},{"t":2001.80,"v":105},{"t":2001.94,"v":90},
  {"t":2002.09,"v":70},{"t":2002.23,"v":60},{"t":2002.37,"v":50},{"t":2002.66,"v":40},{"t":2002.94,"v":30},{"t":2003.23,"v":30},{"t":2003.51,"v":25},{"t":2003.80,"v":20},{"t":2004.09,"v":15},{"t":2004.37,"v":20},{"t":2004.66,"v":15},{"t":2004.94,"v":10},{"t":2005.23,"v":10},{"t":2005.51,"v":5},{"t":2005.80,"v":0},
  {"t":2006.09,"v":-10},{"t":2006.37,"v":-15},{"t":2006.66,"v":-10},{"t":2006.94,"v":0},{"t":2007.23,"v":20},{"t":2007.51,"v":40},{"t":2007.80,"v":60},{"t":2008.09,"v":72},{"t":2008.23,"v":75},{"t":2008.37,"v":70},{"t":2008.66,"v":50},{"t":2008.94,"v":40},{"t":2009.23,"v":30},{"t":2009.51,"v":20},{"t":2009.80,"v":15},{"t":2010.09,"v":10},{"t":2010.37,"v":5},{"t":2010.66,"v":0},{"t":2010.80,"v":-4}
 ],
 "tab21": [{"t":2006.68,"t2":2010.95,"v":288,"v2":331}],
 "tabrow21": [{"t":2006.68,"t2":2010.95,"v":272,"v2":288},{"t":2006.68,"t2":2010.95,"v":257,"v2":272}],
 "tabhd21": [{"t":2010.85,"v":320,"l":"Average premium /"},{"t":2010.85,"v":306,"l":"(discount) %"}],
 "tabtx21": [{"t":2006.8,"v":280,"l":"China A"},{"t":2006.8,"v":264.5,"l":"MSCI China"},{"t":2009.6,"v":280,"l":"96.2"},{"t":2009.6,"v":264.5,"l":"16.5"}],
 "a21": [
  {"t":1998.14,"v":283,"l":"268%"},{"t":2002.09,"v":287,"l":"270%"},{"t":2008.51,"v":193,"l":"178%"},{"t":2010.37,"v":116,"l":"33%"},{"t":2010.37,"v":-44,"l":"-4%"},{"t":1999.29,"v":-77,"l":"-55%"}
 ],
 "a21w": [{"t":2001.89,"v":180,"l":"150%"},{"t":1998.09,"v":103,"l":"80%"},{"t":2008.17,"v":92,"l":"72%"}],
 "r21": [{"t":2010.5,"v":105,"t2":2010.66,"v2":38},{"t":2010.5,"v":-34,"t2":2010.72,"v2":-6},{"t":1995.94,"v":0,"t2":2010.8,"v2":0}]
},
"config": {
 "font": "Liberation Sans",
 "view": {"stroke": null},
 "axis": {"labelFontSize": 5, "labelColor": "#222222", "domainColor": "#555555", "tickColor": "#555555", "domainWidth": 0.6, "tickWidth": 0.6, "tickSize": 2, "labelPadding": 1, "grid": false, "labelOverlap": false, "labelFlush": false, "titleFontSize": 5, "titleFontWeight": "normal", "titleColor": "#222222"},
 "legend": {"labelColor": "#222222"},
 "area": {"interpolate": "linear"},
 "title": {"font": "Noto Sans CJK SC", "fontSize": 7.4, "fontWeight": "bold", "color": "#111111", "subtitleFont": "Noto Sans CJK SC", "subtitleFontSize": 7, "subtitleColor": "#222222", "anchor": "start", "frame": "group", "subtitlePadding": 3, "offset": 5}
}
}
